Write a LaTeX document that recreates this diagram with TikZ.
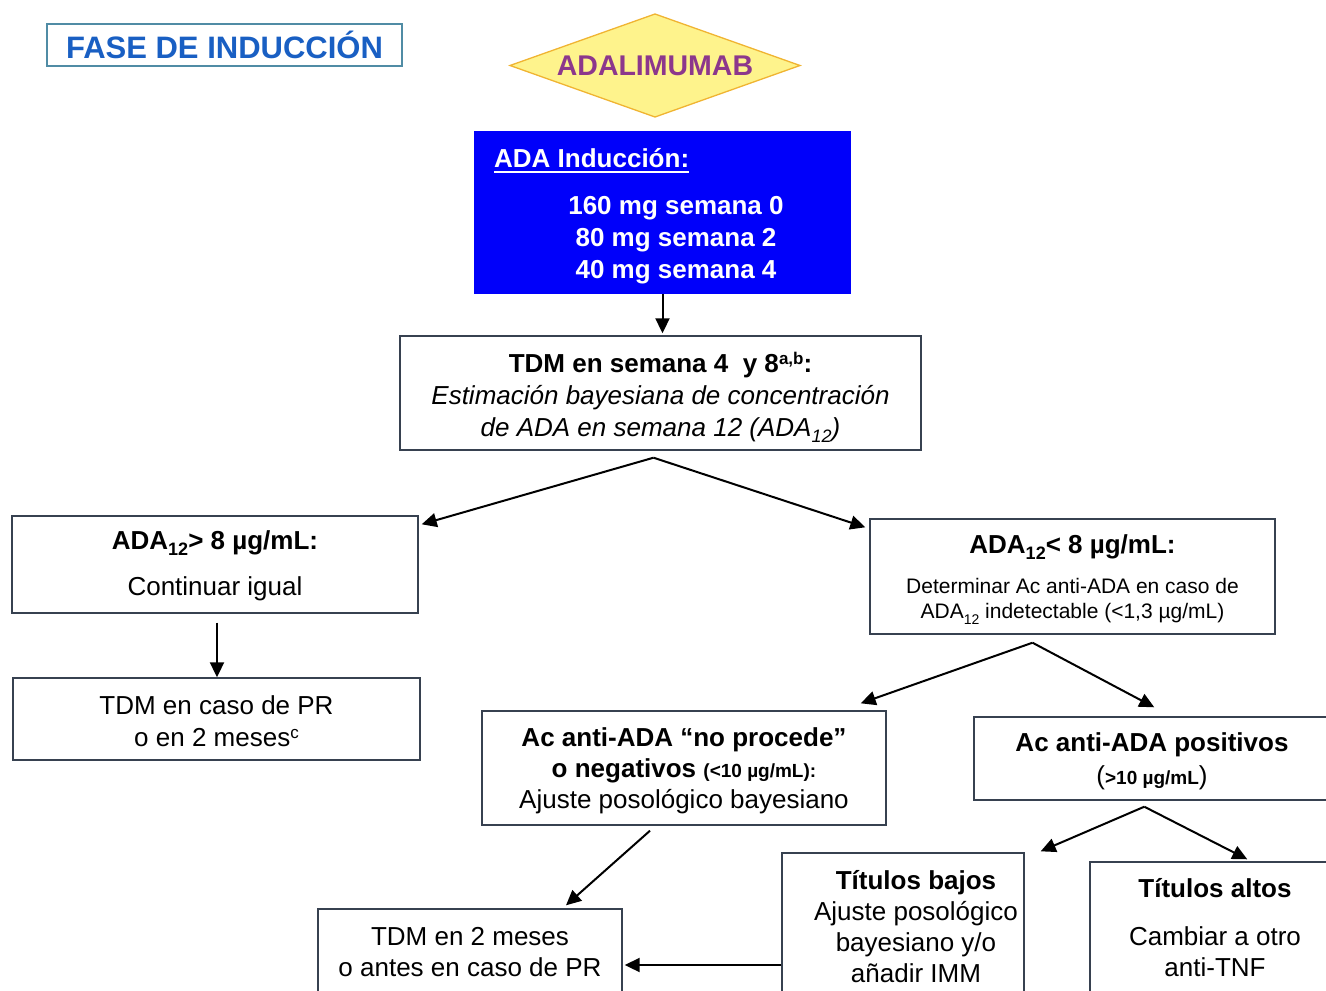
\documentclass[tikz,border=0pt]{standalone}
\usepackage{fontspec}
\setmainfont{Liberation Sans}
\usetikzlibrary{arrows.meta,calc}

\definecolor{boxline}{RGB}{55,65,80}
\definecolor{faseblue}{RGB}{25,95,195}
\definecolor{faseline}{RGB}{80,140,165}
\definecolor{dfill}{RGB}{254,243,140}
\definecolor{dline}{RGB}{240,180,50}
\definecolor{dtext}{RGB}{140,55,140}
\definecolor{indblue}{RGB}{0,0,250}

% small raised / lowered pieces of text
\newcommand{\supx}[1]{\raisebox{8pt}{\fontsize{17}{17}\selectfont #1}}
\newcommand{\subx}[2][18]{\raisebox{-6pt}{\fontsize{#1}{#1}\selectfont #2}}

\begin{document}
\begin{tikzpicture}[x=1pt,y=-1pt,
  frame/.style={draw=boxline,line width=1.4pt,fill=white,inner sep=0pt},
  txt/.style={inner sep=0pt,align=center,text=black,font=\fontsize{26}{31}\selectfont},
  arr/.style={line width=2pt,-{Triangle[length=15pt,width=14pt]}},
]
\useasboundingbox (0,0) rectangle (1326,991);
\clip (0,0) rectangle (1326,991);

% heading and drug
\node[draw=faseline,line width=1.2pt,minimum width=355,minimum height=42,inner sep=0pt,
  text=faseblue,font=\fontsize{31}{31}\selectfont\bfseries] (fase) at (224.5,45) {FASE DE INDUCCIÓN};
\coordinate (drugc) at (655,66);
\fill[dfill,draw=dline,line width=1.3pt]
  ($(drugc)+(-145,-0.5)$) -- ($(drugc)+(0,-52)$) -- ($(drugc)+(145,-0.5)$)
  -- ($(drugc)+(0,51)$) -- cycle;
\node[inner sep=0pt,text=dtext,font=\fontsize{28.5}{28.5}\selectfont\bfseries] (drug) at (drugc) {ADALIMUMAB};

% induction schedule
\node[fill=indblue,minimum width=377,minimum height=163,inner sep=0pt] (ind) at (662.5,212.5) {};
\node[inner sep=0pt,anchor=base west,text=white,font=\fontsize{26}{31}\selectfont\bfseries] (indhead) at (494,167) {ADA Inducción:};
\draw[white,line width=2.4pt] ($(indhead.base west)+(0,5)$) -- ($(indhead.base east)+(0,5)$);
\node[inner sep=0pt,align=center,text=white,font=\fontsize{26}{32}\selectfont\bfseries] (inddose) at (676,240)
  {160 mg semana 0\\80 mg semana 2\\40 mg semana 4};

% monitoring
\node[frame,minimum width=521,minimum height=114] (tdm) at (660.5,393) {};
\node[txt,font=\fontsize{26}{32}\selectfont] (tdmtxt) at (660.5,397)
  {\textbf{TDM en semana 4\ \ y 8\supx{a,b}:}\\
   \textit{Estimación bayesiana de concentración}\\
   \textit{de ADA en semana 12 (ADA\subx{12})}};

% high level branch
\node[frame,minimum width=406,minimum height=97] (gt8) at (215,564.5) {};
\node[txt] (gt8head) at (215,543) {\textbf{ADA\subx{12}> 8 µg/mL:}};
\node[txt] (gt8txt) at (215,589) {Continuar igual};
\node[frame,minimum width=407,minimum height=82] (pr2) at (216.5,719) {};
\node[txt,font=\fontsize{26}{32}\selectfont] (pr2txt) at (216.5,721)
  {TDM en caso de PR\\o en 2 meses\supx{c}};

% low level branch
\node[frame,minimum width=405,minimum height=115] (lt8) at (1072.5,576.5) {};
\node[txt] (lt8head) at (1072.5,547) {\textbf{ADA\subx{12}< 8 µg/mL:}};
\node[txt,font=\fontsize{21}{25}\selectfont] (lt8txt) at (1072.5,601)
  {Determinar Ac anti-ADA en caso de\\ADA\subx[14]{12} indetectable (<1,3 µg/mL)};

\node[frame,minimum width=404,minimum height=114] (neg) at (684,768) {};
\node[txt] (negtxt) at (684,771)
  {\textbf{Ac anti-ADA “no procede”}\\
   \textbf{o negativos {\fontsize{19}{19}\selectfont (<10 µg/mL):}}\\
   Ajuste posológico bayesiano};

\node[frame,minimum width=354,minimum height=83] (pos) at (1151,758.5) {};
\node[txt,font=\fontsize{26}{33}\selectfont] (postxt) at (1152,761.5)
  {\textbf{Ac anti-ADA positivos}\\
   ({\fontsize{19}{19}\selectfont\bfseries >10 µg/mL})};

% antibody titres
\node[frame,minimum width=242,minimum height=157] (bajos) at (903,931.5) {};
\node[txt] (bajostxt) at (916,927)
  {\textbf{Títulos bajos}\\Ajuste posológico\\bayesiano y/o\\añadir IMM};
\node[frame,minimum width=250,minimum height=148] (altos) at (1215,936) {};
\node[txt] (altostxt) at (1215,928)
  {\textbf{Títulos altos}\\[17pt]Cambiar a otro\\anti-TNF};
\node[frame,minimum width=304,minimum height=101] (meses) at (470,959.5) {};
\node[txt] (mesestxt) at (470,952)
  {TDM en 2 meses\\o antes en caso de PR};

% connectors
\draw[arr] (ind.south) -- ($(ind.south |- tdm.north)+(0,-2)$);

\coordinate (tdmfork) at ($(tdm.south)+(-7,7)$);
\draw[arr] (tdmfork) -- ($(gt8.north east)+(3,9)$);
\draw[arr] (tdmfork) -- ($(lt8.north west)+(-4,9)$);

\coordinate (gtstart) at ($(gt8.south)+(2,9)$);
\draw[arr] (gtstart) -- (gtstart |- pr2.north);

\coordinate (ltfork) at ($(lt8.south)+(-40,8)$);
\draw[arr] (ltfork) -- ($(neg.north east)+(-26,-7)$);
\draw[arr] (ltfork) -- ($(pos.north west)+(181,-9)$);

\coordinate (posfork) at ($(pos.south west)+(171,6)$);
\draw[arr] (posfork) -- ($(bajos.north east)+(16,-1)$);
\draw[arr] (posfork) -- ($(altos.north west)+(158,-2)$);

\draw[arr] ($(neg.south)+(-34,5)$) -- ($(meses.north)+(96,-3)$);

\coordinate (hz) at (0,965);
\draw[arr] (bajos.west |- hz) -- ($(meses.east |- hz)+(2,0)$);
\end{tikzpicture}
\end{document}
